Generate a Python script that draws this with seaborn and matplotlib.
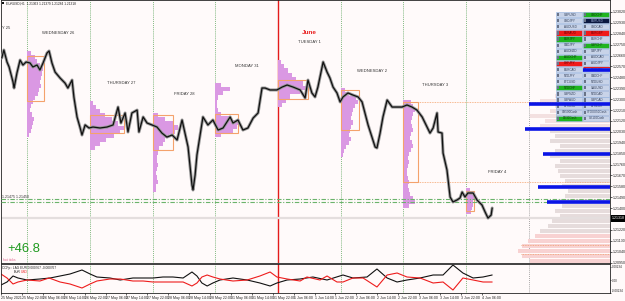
import matplotlib
matplotlib.use("Agg")
import numpy as np
import pandas as pd
import matplotlib.pyplot as plt
import seaborn as sns
from matplotlib.patches import Rectangle
from matplotlib.transforms import Affine2D, blended_transform_factory

# ---------------- data ----------------
PRICE_BAR = [0.3, 1.1, 2.3, 3.1, 4.6, 5.0, 6.1, 7.3, 8.4, 9.6,
             11.1, 12.2, 13.8, 14.9, 16.1, 17.6, 18.4, 19.5, 20.7, 22.6,
             24.5, 25.6, 27.2, 27.9, 29.1, 30.2, 31.0, 32.2, 33.7, 35.2,
             37.9, 40.6, 42.9, 44.8, 45.9, 47.5, 48.6, 50.1, 52.1, 52.8,
             54.4, 55.9, 57.8, 59.7, 61.6, 63.5, 65.5, 67.4, 69.3, 70.4,
             71.6, 72.3, 73.1, 73.5, 74.3, 75.0, 76.2, 77.3, 79.2, 81.1,
             83.1, 85.0, 87.7, 88.8, 90.7, 92.6, 94.5, 96.5, 98.4, 99.9,
             101.1, 103.0, 105.6, 107.6, 109.5, 111.8, 114.5, 116.4, 117.5, 119.0,
             120.2, 121.3, 123.3, 124.8, 125.9, 127.1, 128.6, 129.8, 130.9, 132.8,
             134.7, 136.7, 138.2, 139.3, 140.5, 142.0, 143.2, 143.9, 145.1, 146.2,
             147.8, 149.7, 151.6, 153.5, 155.4, 157.3, 159.2, 161.2, 163.1, 164.2,
             165.4, 166.9, 167.3, 168.8, 169.2, 170.7, 171.9, 173.0, 174.5, 175.7,
             176.5, 177.6, 178.7, 180.7, 182.2, 184.1, 185.3, 186.4, 187.6, 188.0]
PRICE_CLOSE = [1.22640, 1.22706, 1.22607, 1.22566, 1.22442, 1.22392, 1.22516, 1.22623, 1.22582, 1.22607,
               1.22599, 1.22566, 1.22582, 1.22541, 1.22599, 1.22681, 1.22698, 1.22599, 1.22524, 1.22475,
               1.22433, 1.22392, 1.22458, 1.22318, 1.22153, 1.22070, 1.22004, 1.22087, 1.22062, 1.22070,
               1.22062, 1.22070, 1.22087, 1.22235, 1.22103, 1.22186, 1.22029, 1.22186, 1.22210, 1.22029,
               1.22153, 1.22103, 1.22087, 1.22070, 1.22020, 1.21987, 1.22004, 1.21963, 1.22128, 1.22020,
               1.21905, 1.21756, 1.21591, 1.21550, 1.21674, 1.21839, 1.22004, 1.22153, 1.22087, 1.22128,
               1.22045, 1.22062, 1.22153, 1.22103, 1.22128, 1.22045, 1.22062, 1.22144, 1.22186, 1.22392,
               1.22392, 1.22376, 1.22376, 1.22400, 1.22417, 1.22400, 1.22376, 1.22310, 1.22458, 1.22351,
               1.22318, 1.22400, 1.22607, 1.22524, 1.22475, 1.22400, 1.22351, 1.22277, 1.22318, 1.22351,
               1.22334, 1.22318, 1.22277, 1.22186, 1.22087, 1.21987, 1.21905, 1.21897, 1.22020, 1.22153,
               1.22293, 1.22235, 1.22235, 1.22235, 1.22252, 1.22235, 1.22210, 1.22153, 1.22070, 1.22020,
               1.22062, 1.22186, 1.22029, 1.22020, 1.21855, 1.21715, 1.21492, 1.21451, 1.21467, 1.21484,
               1.21533, 1.21492, 1.21525, 1.21525, 1.21467, 1.21426, 1.21368, 1.21318, 1.21343, 1.21401]

# daily volume profiles (start bar, price range, volumes top->bottom)
DAY_START = [10, 34, 58, 82, 106, 130, 154, 178]
DAY_NAMES = ["WEDNESDAY 26", "THURSDAY 27", "FRIDAY 28", "MONDAY 31",
             "TUESDAY 1", "WEDNESDAY 2", "THURSDAY 3", "FRIDAY 4"]
PROFILE_HI = [1.22681, 1.22268, 1.22169, 1.22417, 1.22607, 1.22376, 1.22277, 1.21550]
PROFILE_LO = [1.22004, 1.21897, 1.21550, 1.22004, 1.22252, 1.21839, 1.21417, 1.21368]
VOL_WED26 = [4, 8, 10, 13, 16, 15, 14, 13, 14, 12, 11, 8, 6, 4, 3, 5, 7, 6, 5, 4, 2]
VOL_THU27 = [3, 6, 10, 15, 22, 28, 35, 30, 24, 16, 10, 5]
VOL_FRI28 = [5, 12, 20, 25, 22, 16, 12, 10, 6, 5, 4, 4, 5, 4, 3, 4, 5, 3, 3]
VOL_MON31 = [6, 15, 8, 3, 2, 2, 3, 6, 15, 25, 22, 18, 6]
VOL_TUE1 = [3, 6, 10, 14, 18, 25, 30, 22, 12, 8, 4]
VOL_WED2 = [4, 8, 15, 17, 14, 12, 11, 10, 12, 10, 9, 8, 10, 8, 5, 3, 2]
VOL_THU3 = [8, 10, 12, 10, 9, 8, 9, 10, 8, 7, 9, 10, 8, 6, 5, 6, 5, 4, 4, 5, 6, 5, 6, 7, 10, 12, 6]
VOL_FRI4 = [4, 6, 8, 7, 7, 6, 5]
PROFILE_VOLS = [VOL_WED26, VOL_THU27, VOL_FRI28, VOL_MON31, VOL_TUE1, VOL_WED2, VOL_THU3, VOL_FRI4]

# value-area boxes
BOX_LEN = [6.5, 13.0, 8.0, 8.8, 11.5, 6.9, 5.7, 3.1]
BOX_HI = [1.22656, 1.22169, 1.22169, 1.22177, 1.22458, 1.22376, 1.22277, 1.21541]
BOX_LO = [1.22285, 1.22020, 1.21880, 1.22020, 1.22301, 1.22045, 1.21616, 1.21376]

# whole-range profile on the right
RP_HI, RP_LO = 1.22409, 1.20963
RP_VOL = [20, 40, 55, 70, 55, 60, 80, 65, 70, 60, 55, 60, 50, 55, 60, 50, 55, 52,
          50, 45, 48, 42, 45, 50, 48, 55, 50, 58, 62, 70, 75, 82, 88, 92, 88, 80]

BLUE_PRICE = [1.22541, 1.22260, 1.22054, 1.21847, 1.21574, 1.21451]
BLUE_FROM = [222.8, 202.1, 200.6, 207.5, 205.6, 209.0]
GREEN_LEVELS = [1.21475, 1.21450]
ORANGE_EXT = [1.22277, 1.21616]
ORANGE_LOW = [1.21095, 1.21021]
LAST_PRICE = 1.21318

Y_TICKS = [1.23020, 1.22930, 1.22840, 1.22750, 1.22660, 1.22570, 1.22480, 1.22390,
           1.22300, 1.22210, 1.22120, 1.22030, 1.21940, 1.21850, 1.21760, 1.21670,
           1.21580, 1.21490, 1.21400, 1.21220, 1.21130, 1.21040, 1.20950]

X_TICK_BARS = list(range(0, 185, 8))
X_TICK_LABELS = ["25 May 2021", "25 May 22:00", "26 May 06:00", "26 May 14:00", "26 May 22:00",
                 "27 May 06:00", "27 May 14:00", "27 May 22:00", "28 May 06:00", "28 May 14:00",
                 "28 May 22:00", "31 May 06:00", "31 May 14:00", "31 May 22:00", "1 Jun 06:00",
                 "1 Jun 14:00", "1 Jun 22:00", "2 Jun 06:00", "2 Jun 14:00", "2 Jun 22:00",
                 "3 Jun 06:00", "3 Jun 14:00", "3 Jun 22:00", "4 Jun 06:00"]

# CCFp indicator: EUR (black) and USD (red)
EUR_BAR = [0, 2.3, 4.6, 6.5, 10.0, 14.9, 18.8, 22.6, 26.4, 31.0,
           34.1, 36.7, 41.7, 45.6, 50.5, 54.4, 58.2, 62.0, 65.8, 69.7,
           73.1, 75.0, 76.9, 78.9, 81.1, 83.8, 88.8, 94.2, 99.1, 103.0,
           105.6, 109.5, 114.5, 119.4, 124.8, 130.9, 134.7, 140.1, 143.9, 147.8,
           151.6, 155.4, 160.4, 165.4, 169.2, 173.0, 176.8, 180.7, 184.5, 188.0]
EUR_VAL = [-0.0009, -0.00036, 0.00072, 0.00036, 0, 0.00018, 0.00036, 0.00072, 0.00108, 0.0018,
           0.00108, 0.00054, 0.00036, 0, 0.00036, 0.00036, 0.00036, 0.00054, 0.00054, 0.00036,
           0.00144, 0.00072, -0.00054, -0.00108, -0.00054, 0, 0.00036, 0, -0.00054, -0.00108,
           -0.00054, 0, 0.00018, 0.00054, 0, 0.0009, 0.00036, 0.00054, 0.00198, 0.00036,
           -0.00036, 0, 0.00036, 0.0009, 0.0009, 0.0027, 0.00126, 0.00036, 0.00054, 0.0009]
USD_BAR = [0, 2.3, 4.6, 6.5, 10.0, 14.9, 18.4, 22.6, 26.4, 31.0,
           34.1, 36.7, 41.7, 45.6, 50.5, 54.4, 58.2, 62.0, 65.8, 69.7,
           73.1, 75.0, 76.9, 78.9, 81.1, 83.8, 88.8, 94.2, 99.1, 103.0,
           105.6, 109.5, 114.5, 117.1, 122.1, 124.8, 128.6, 130.9, 134.7, 138.6,
           143.9, 147.8, 151.6, 155.4, 160.4, 165.4, 169.2, 173.0, 176.8, 180.7,
           184.5, 188.0]
USD_VAL = [0.00108, 0.00036, -0.00072, -0.00036, 0, -0.00018, 0.00036, -0.00036, -0.00072, -0.00144,
           -0.00072, -0.00018, 0.00018, 0.00018, -0.00018, -0.00018, -0.00036, -0.00036, -0.00036, -0.00036,
           -0.00108, -0.00054, 0.00054, 0.0009, 0.00054, 0.00018, -0.00018, 0, 0.00072, 0.00144,
           0.00054, 0.00018, -0.00018, 0.00054, 0, 0.00072, -0.00036, -0.00036, 0.00036, 0.00036,
           -0.00126, 0.0009, 0.00126, 0.00054, 0.00036, -0.00054, -0.00036, -0.0018, 0.00036, 0,
           -0.00036, -0.00036]

BTN_COL1 = ["GBPUSD", "USDJPY", "AUDUSD", "EURAUD", "EURJPY", "CADJPY", "AUDNZD", "AUDCHF", "CHFJPY",
            "EURCAD", "NZDJPY", "BTCUSD", "NZDCHF", "GBPNZD", "GBPAUD", "ETHUSD", "US500Cash", "DE30Cash"]
BTN_STATE1 = ["n", "n", "n", "r", "g", "n", "n", "g", "r", "n", "n", "n", "g", "n", "n", "n", "n", "g"]
BTN_COL2 = ["USDCHF", "EURUSD", "USDCAD", "EURGBP", "EURCHF", "GBPCHF", "GBPJPY", "AUDCAD", "AUDJPY",
            "EURNZD", "CADCHF", "NZDUSD", "XAUUSD", "NZDCAD", "GBPCAD", "ETHEUR", "STOXX50Cash", "UK100Cash"]
BTN_STATE2 = ["g", "k", "n", "r", "n", "g", "n", "n", "n", "n", "n", "n", "n", "n", "n", "n", "n", "n"]

# ---------------- styling ----------------
sns.set_theme(style="white")
plt.rcParams['font.family'] = ['Liberation Sans', 'DejaVu Sans']

W, H = 625, 301
BG = '#fffafa'
XMAX = 233.1
YLO, YHI = 1.20947, 1.23119
PX_PER_BAR = 2.6125
VOL_TO_BAR = 1.0 / PX_PER_BAR

fig = plt.figure(figsize=(W / 100, H / 100), dpi=100)
fig.patch.set_facecolor(BG)
PX = Affine2D().scale(1 / W, -1 / H).translate(0, 1) + fig.transFigure

ax = fig.add_axes([1 / W, 1 - 263 / H, 609 / W, 263 / H])
axi = fig.add_axes([1 / W, 1 - 293 / H, 609 / W, 29 / H])
for a in (ax, axi):
    a.set_facecolor(BG)
    for s in a.spines.values():
        s.set_color('#222222')
        s.set_linewidth(0.6)

# separators
for a in (ax, axi):
    for b in DAY_START[:4] + DAY_START[5:]:
        a.axvline(b, color='#5ea65e', lw=0.6, ls=(0, (1, 1.3)), zorder=1)
    a.axvline(DAY_START[4], color='#e41b1b', lw=1.0, zorder=1)
    a.axvline(202, color='#8a8a8a', lw=0.6, ls=(0, (1, 1.5)), zorder=1)

# right-side profile
rp_levels = np.linspace(RP_HI, RP_LO, len(RP_VOL))
rp_step = (RP_HI - RP_LO) / (len(RP_VOL) - 1)
rp_w = np.array(RP_VOL) * VOL_TO_BAR
rp_cols = ['#f3e0e0' if i < 9 else ('#f8d2d2' if i >= 30 else '#e6dcdc') for i in range(len(RP_VOL))]
ax.barh(rp_levels, rp_w, left=XMAX - rp_w, height=rp_step * 0.85, color=rp_cols, lw=0, zorder=1)

# daily profiles and value-area boxes
ORCHID = '#da98e3'
for i, start in enumerate(DAY_START):
    vols = np.array(PROFILE_VOLS[i], dtype=float)
    n = len(vols)
    levels = np.linspace(PROFILE_HI[i], PROFILE_LO[i], n)
    step = (PROFILE_HI[i] - PROFILE_LO[i]) / (n - 1)
    ax.barh(levels, vols * VOL_TO_BAR, left=start, height=step, color=ORCHID, lw=0, zorder=2)
    ax.add_patch(Rectangle((start, BOX_LO[i]), BOX_LEN[i], BOX_HI[i] - BOX_LO[i],
                           fill=False, ec='#f4a26c', lw=0.8, zorder=3))

# horizontal levels
ax.hlines(ORANGE_EXT, DAY_START[6], XMAX, color='#f4a26c', lw=0.6, ls=(0, (1, 1)), zorder=2)
ax.hlines(ORANGE_LOW, 199, XMAX, color='#f0a070', lw=0.6, ls=(0, (1, 1)), zorder=2)
ax.axhline(LAST_PRICE, color='#e4dede', lw=1.6, zorder=1.5)
for g in GREEN_LEVELS:
    ax.axhline(g, color='#6bb36b', lw=0.8, ls=(0, (4, 1.5, 1, 1.5)), zorder=3)

# price
df = pd.DataFrame({'bar': PRICE_BAR, 'close': PRICE_CLOSE})
sns.lineplot(data=df, x='bar', y='close', ax=ax, color='#9a9a9a', lw=2.2, zorder=4, estimator=None)
sns.lineplot(data=df, x='bar', y='close', ax=ax, color='#111111', lw=0.9, zorder=5, estimator=None)

# currency buttons (drawn in pixel space)
FILL = {'n': '#c8d3e8', 'g': '#1fb41f', 'r': '#f01a1a', 'k': '#0b1840'}
TXT = {'n': '#33405a', 'g': '#0b3d0b', 'r': '#6a0000', 'k': '#9fb0d8'}
for col, (names, states, x0) in enumerate([(BTN_COL1, BTN_STATE1, 556), (BTN_COL2, BTN_STATE2, 583)]):
    for r, (nm, st) in enumerate(zip(names, states)):
        y0 = 12 + r * 6.1
        ax.add_patch(Rectangle((x0, y0), 25.5, 5.2, transform=PX, fc=FILL[st],
                               ec='#8fb0dd', lw=0.4, zorder=6))
        ax.add_patch(Rectangle((x0 + 1, y0 + 1), 1.6, 3.2, transform=PX, fc='#6a7388', lw=0, zorder=6.5))
        ax.text(x0 + 14, y0 + 2.7, nm, transform=PX, fontsize=2.2, color=TXT[st],
                ha='center', va='center', zorder=6.6)

# blue POC lines on top
ax.hlines(BLUE_PRICE, BLUE_FROM, XMAX, color='#0a14e6', lw=2.6, zorder=7)
ax.hlines([1.22566], [222.8], XMAX, color='#e52020', lw=0.8, zorder=7)

# day labels
TB = blended_transform_factory(ax.transData, PX)
label_y = [33, 83, 94, 66, 42, 71, 85, 172]
fig.text(2, 28, "Y 25", transform=PX, fontsize=3.0, color='#333333', ha='left', va='center')
for i, start in enumerate(DAY_START):
    ax.text(start + 12, label_y[i], DAY_NAMES[i], transform=TB, fontsize=3.0, color='#333333',
            ha='center', va='center', zorder=8)
ax.text(DAY_START[4] + 12, 32, "June", transform=TB, fontsize=4.6, color='#e81c1c',
        fontweight='bold', ha='center', va='center', zorder=8)

ax.set_xlim(0, XMAX)
ax.set_ylim(YLO, YHI)
ax.set_xlabel('')
ax.set_ylabel('')
ax.set_xticks([])
ax.yaxis.tick_right()
ax.set_yticks(Y_TICKS)
ax.set_yticklabels([f"{v:.5f}" for v in Y_TICKS])
ax.tick_params(axis='y', which='both', right=True, left=False, length=1.5, width=0.5, pad=0.6,
               labelsize=2.6, colors='#222222')

# indicator
sns.lineplot(x=EUR_BAR, y=EUR_VAL, ax=axi, color='#111111', lw=0.8, estimator=None)
sns.lineplot(x=USD_BAR, y=USD_VAL, ax=axi, color='#ee1c1c', lw=0.8, estimator=None)
axi.set_xlim(0, XMAX)
axi.set_ylim(-0.00234, 0.00288)
axi.set_xlabel('')
axi.set_ylabel('')
axi.yaxis.tick_right()
axi.set_yticks([0.00234, 0, -0.00234])
axi.set_yticklabels(['0.00234', '0.00', '-0.00234'])
axi.tick_params(axis='y', right=True, left=False, length=1.0, width=0.5, pad=0.4, labelsize=2.2)
axi.get_yticklabels()[-1].set_va('bottom')
axi.set_xticks(X_TICK_BARS)
axi.set_xticklabels(X_TICK_LABELS, ha='left')
axi.tick_params(axis='x', bottom=True, length=1.5, width=0.5, pad=0.8, labelsize=2.6)

# texts in pixel space
fig.add_artist(Rectangle((2, 1.8), 2.2, 2.2, transform=PX, fc='#111111', lw=0))
fig.text(6, 3.2, "EURUSD,H1  1.21363 1.21379 1.21284 1.21318", transform=PX,
         fontsize=2.3, color='#222222', va='center')
fig.text(2, 197, "1.21475 1.21450", transform=PX, fontsize=2.6, color='#333333', va='center')
fig.text(7, 248.5, "+46.8", transform=PX, fontsize=9.4, color='#1f9a1f', va='center')
fig.text(3, 260, "hot ticks", transform=PX, fontsize=2.4, color='#e0608a', va='center')
fig.text(2, 267.5, "CCFp : LAG EUR 0.000767 -0.000767", transform=PX, fontsize=2.3,
         color='#222222', va='center')
fig.text(14, 272, "EUR", transform=PX, fontsize=2.3, color='#111111', va='center')
fig.text(21, 272, "USD", transform=PX, fontsize=2.3, color='#ee1c1c', va='center')
fig.add_artist(Rectangle((611, 214.5), 14, 7.5, transform=PX, fc='#000000', lw=0))
fig.text(618, 218.3, f"{LAST_PRICE:.5f}", transform=PX, fontsize=2.6, color='white',
         ha='center', va='center')

fig.savefig("out.png", dpi=100, facecolor=BG)
